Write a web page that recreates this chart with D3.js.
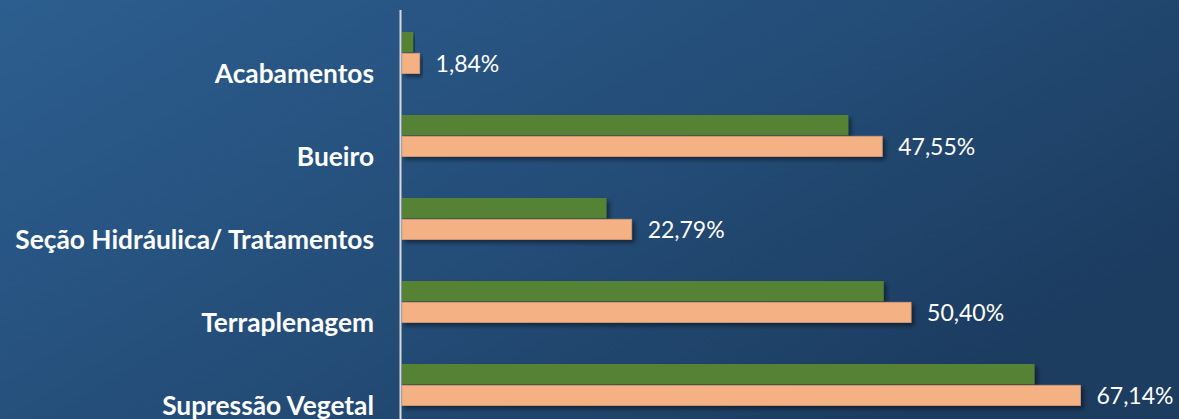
<!DOCTYPE html>
<html lang="pt">
<head>
  <meta charset="utf-8">
  <title>Avanço por serviço</title>
  <script src="https://cdnjs.cloudflare.com/ajax/libs/d3/7.8.5/d3.min.js"></script>
  <style>
    html, body { margin: 0; padding: 0; overflow: hidden; }
    svg { display: block; }
  </style>
</head>
<body>
<svg id="chart"></svg>
<script>
// categories, top to bottom
var categories = ["Acabamentos", "Bueiro", "Seção Hidráulica/ Tratamentos", "Terraplenagem", "Supressão Vegetal"];
// green series (no labels shown)
var previsto = [1.2, 44.2, 20.3, 47.7, 62.6];
// salmon series (labelled)
var realizado = [1.84, 47.55, 22.79, 50.40, 67.14];

var w = 1179, h = 419;

var svg = d3.select("#chart").attr("width", w).attr("height", h);
var defs = svg.append("defs");

var bg = defs.append("linearGradient").attr("id", "bg")
  .attr("x1", "0%").attr("y1", "0%").attr("x2", "100%").attr("y2", "60%");
bg.append("stop").attr("offset", "0%").attr("stop-color", "#2c5e8f");
bg.append("stop").attr("offset", "55%").attr("stop-color", "#244d78");
bg.append("stop").attr("offset", "100%").attr("stop-color", "#1c3c60");

var sh = defs.append("filter").attr("id", "shadow")
  .attr("x", "-5%").attr("y", "-30%").attr("width", "120%").attr("height", "180%");
sh.append("feDropShadow").attr("dx", 3).attr("dy", 3).attr("stdDeviation", 2)
  .attr("flood-color", "#000").attr("flood-opacity", 0.45);

svg.append("rect").attr("width", w).attr("height", h).attr("fill", "url(#bg)");

var x = d3.scaleLinear().domain([0, 80]).range([401, 401 + 809.6]);
var y = d3.scaleBand().domain(categories).range([11.25, 426.25])
  .paddingInner(0.5).paddingOuter(0.25);
var sub = d3.scaleBand().domain(["previsto", "realizado"]).range([0, y.bandwidth()]).paddingInner(0.05);

var rows = categories.map(function(c, i) {
  return { cat: c, previsto: previsto[i], realizado: realizado[i] };
});

var g = svg.append("g");

// green bars
g.selectAll("rect.prev").data(rows).enter().append("rect")
  .attr("class", "prev")
  .attr("x", x(0) + 1)
  .attr("y", function(d) { return y(d.cat) + sub("previsto"); })
  .attr("width", function(d) { return x(d.previsto) - x(0) - 1; })
  .attr("height", sub.bandwidth())
  .attr("fill", "#548235")
  .attr("filter", "url(#shadow)");

// salmon bars
g.selectAll("rect.real").data(rows).enter().append("rect")
  .attr("class", "real")
  .attr("x", x(0) + 1)
  .attr("y", function(d) { return y(d.cat) + sub("realizado"); })
  .attr("width", function(d) { return x(d.realizado) - x(0) - 1; })
  .attr("height", sub.bandwidth())
  .attr("fill", "#f4b183")
  .attr("stroke", "#d99a70")
  .attr("stroke-width", 0.8)
  .attr("filter", "url(#shadow)");

// value labels
var fmt = function(v) { return d3.format(".2f")(v).replace(".", ",") + "%"; };
g.selectAll("text.val").data(rows).enter().append("text")
  .attr("class", "val")
  .attr("x", function(d) { return x(d.realizado) + 16; })
  .attr("y", function(d) { return y(d.cat) + sub("realizado") + sub.bandwidth() / 2; })
  .attr("dy", "0.36em")
  .attr("fill", "#ffffff")
  .style("font-family", "Lato, 'Open Sans', sans-serif")
  .style("font-size", "23px")
  .text(function(d) { return fmt(d.realizado); });

// category axis line
svg.append("line")
  .attr("x1", x(0) - 0.5).attr("x2", x(0) - 0.5)
  .attr("y1", 10).attr("y2", h)
  .attr("stroke", "#d9d9d9").attr("stroke-width", 2);

// category labels
svg.selectAll("text.cat").data(categories).enter().append("text")
  .attr("class", "cat")
  .attr("x", 374)
  .attr("y", function(d) { return y(d) + y.bandwidth(); })
  .attr("dy", "0.36em")
  .attr("text-anchor", "end")
  .attr("fill", "#ffffff")
  .style("font-family", "Lato, 'Open Sans', sans-serif")
  .style("font-weight", "bold")
  .style("font-size", "26.3px")
  .text(function(d) { return d; });
</script>
</body>
</html>
